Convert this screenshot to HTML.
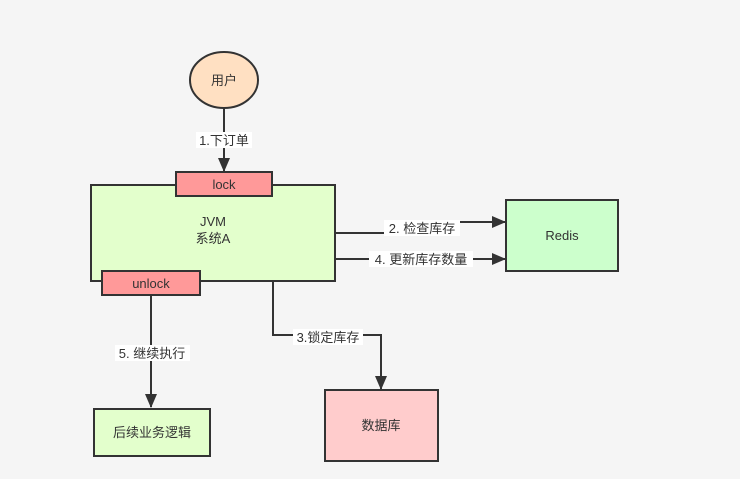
<!DOCTYPE html>
<html><head><meta charset="utf-8"><style>
html,body{margin:0;padding:0;background:#f5f5f5;}
svg{display:block;}
text{font-family:"Liberation Sans","Noto Sans CJK SC",sans-serif;font-size:13px;fill:#333;}
</style></head><body>
<svg width="740" height="479" viewBox="0 0 740 479" xmlns="http://www.w3.org/2000/svg">
<rect width="740" height="479" fill="#f5f5f5"/>
<defs><marker id="a" markerWidth="14" markerHeight="12" refX="13" refY="6" orient="auto" markerUnits="userSpaceOnUse"><path d="M0,0 L14,6 L0,12 Z" fill="#333"/></marker></defs>
<g stroke="#333" stroke-width="2" fill="none">
<line x1="224" y1="108" x2="224" y2="171" marker-end="url(#a)"/>
<polyline points="335,233 420,233 420,222 505,222" marker-end="url(#a)"/>
<line x1="335" y1="259" x2="505" y2="259" marker-end="url(#a)"/>
<polyline points="273,281 273,335 381,335 381,389" marker-end="url(#a)"/>
<line x1="151" y1="296" x2="151" y2="407" marker-end="url(#a)"/>
</g>
<ellipse cx="224" cy="80" rx="34" ry="28" fill="#ffe0c2" stroke="#333" stroke-width="2"/>
<text x="224" y="85" text-anchor="middle">用户</text>
<rect x="91" y="185" width="244" height="96" fill="#e3ffcc" stroke="#333" stroke-width="2"/>
<text x="213" y="226" text-anchor="middle">JVM</text>
<text x="213" y="243" text-anchor="middle">系统A</text>
<rect x="176" y="172" width="96" height="24" fill="#ff9999" stroke="#333" stroke-width="2"/>
<text x="224" y="189" text-anchor="middle">lock</text>
<rect x="102" y="271" width="98" height="24" fill="#ff9999" stroke="#333" stroke-width="2"/>
<text x="151" y="288" text-anchor="middle">unlock</text>
<rect x="506" y="200" width="112" height="71" fill="#ccffcc" stroke="#333" stroke-width="2"/>
<text x="562" y="240" text-anchor="middle">Redis</text>
<rect x="325" y="390" width="113" height="71" fill="#ffcccc" stroke="#333" stroke-width="2"/>
<text x="381" y="430" text-anchor="middle">数据库</text>
<rect x="94" y="409" width="116" height="47" fill="#e3ffcc" stroke="#333" stroke-width="2"/>
<text x="152" y="437" text-anchor="middle">后续业务逻辑</text>
<rect x="196" y="132" width="56" height="16" fill="#fff"/>
<text x="224" y="145" text-anchor="middle">1.下订单</text>
<rect x="384" y="220" width="76" height="16" fill="#fff"/>
<text x="422" y="233" text-anchor="middle">2. 检查库存</text>
<rect x="369" y="251" width="104" height="16" fill="#fff"/>
<text x="421" y="264" text-anchor="middle">4. 更新库存数量</text>
<rect x="293" y="329" width="70" height="16" fill="#fff"/>
<text x="328" y="342" text-anchor="middle">3.锁定库存</text>
<rect x="115" y="345" width="75" height="16" fill="#fff"/>
<text x="152" y="358" text-anchor="middle">5. 继续执行</text>
</svg>
</body></html>
